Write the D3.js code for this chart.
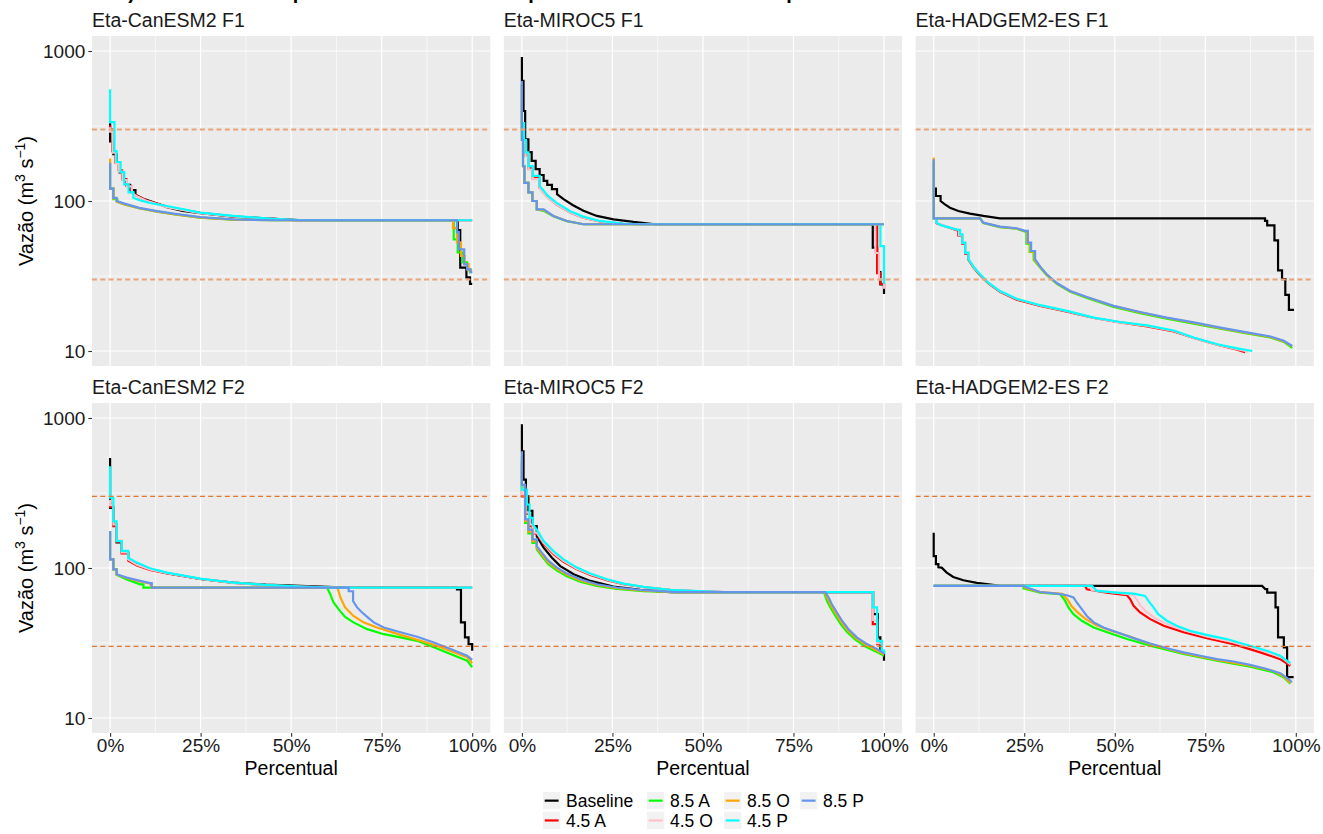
<!DOCTYPE html>
<html><head><meta charset="utf-8">
<script src="https://cdn.jsdelivr.net/npm/d3@7"></script>
<style>body{margin:0;background:#fff}svg{display:block;font-family:"Liberation Sans",Arial,sans-serif}</style>
</head><body>
<svg id="c" width="1323" height="834"></svg>
<script>
const seriesNames = ["Baseline","4.5 A","8.5 A","4.5 O","8.5 O","4.5 P","8.5 P"];
const seriesColors = ["#000000","#FF0000","#00FF00","#FFC0CB","#FFA500","#00FFFF","#6495ED"];
const panelTitles = ["Eta-CanESM2 F1","Eta-MIROC5 F1","Eta-HADGEM2-ES F1","Eta-CanESM2 F2","Eta-MIROC5 F2","Eta-HADGEM2-ES F2"];
const xTicks = [0,25,50,75,100];
const xTickLabels = ["0%","25%","50%","75%","100%"];
const yTicks = [10,100,1000];
const refLines = [300,30];
const titleText = "b) Curva de vazão permanente de cenários para os horizontes futuros por modelo";

// each panel: [Baseline, 4.5 A, 8.5 A, 4.5 O, 8.5 O, 4.5 P, 8.5 P], vertices [percent, vazão]
const canesmF1 = [
 [[0,330],[0,250],[0.9,250],[0.9,205],[1.8,205],[1.8,180],[2.6,180],[2.6,155],[3.5,155],[3.5,138],[4.4,138],[4.4,128],[5.5,128],[5.5,118],[7,118],[7,110],[9,104],[12,98],[15.7,91],[20,86],[24.9,83],[34,78.5],[43,76.5],[52,74.5],[60,74.4],[96,74.4],[96,64],[96.7,64],[96.7,36],[98.4,36],[98.4,31],[99.4,31],[99.4,28],[100,28]],
 [[0,320],[0,300],[0.6,300],[0.6,215],[1.5,215],[1.5,180],[2.4,180],[2.4,160],[3.3,160],[3.3,140],[4.5,140],[4.5,126],[5.8,126],[5.8,114],[7.5,108],[10,101],[15.7,91.5],[24.9,83.3],[34,79],[43,76.5],[52,74.3],[60,74.4],[100,74.4]],
 [[0,180],[0,121],[0.9,121],[0.9,103],[2,103],[2,99],[4,95],[8,89.5],[13,85],[18,81.5],[24.9,77.5],[34,75.2],[45,74.4],[94.9,74.4],[94.9,55.5],[96,55.5],[96,45.5],[97.3,45.5],[97.3,39],[98.6,39],[98.6,35],[99.5,35],[99.5,33.5],[100,33.5]],
 [[0,310],[0,290],[0.7,290],[0.7,210],[1.6,210],[1.6,178],[2.5,178],[2.5,157],[3.4,157],[3.4,138],[4.6,138],[4.6,125],[6,125],[6,113],[7.5,107],[10,100.5],[15.7,91],[24.9,83],[34,78.8],[43,76.3],[52,74.3],[60,74.4],[100,74.4]],
 [[0,192],[0,121],[0.9,121],[0.9,104],[1.8,104],[1.8,99],[4,95],[8,89.5],[13,85],[18,81.5],[24.9,77.5],[34,75.2],[45,74.4],[94.7,74.4],[94.7,66],[95.8,66],[95.8,53],[96.9,53],[96.9,43],[97.9,43],[97.9,38],[99,38],[99,34.5],[100,34.5]],
 [[0,556],[0,336],[1.2,336],[1.2,215],[1.8,215],[1.8,182],[2.9,182],[2.9,156],[3.9,156],[3.9,129],[5.1,129],[5.1,114],[6.4,114],[6.4,105],[8.3,101],[11,97],[15.7,92.6],[24.9,83.7],[34,79.5],[43,76.7],[52,74.6],[60,74.4],[100,74.4]],
 [[0,180],[0,121],[0.9,121],[0.9,105],[1.8,105],[1.8,100],[4,96],[8,90],[13,85.5],[18,82],[24.9,78],[34,75.5],[45,74.4],[95.8,74.4],[95.8,62],[96.3,62],[96.3,47.6],[97.8,47.6],[97.8,37.8],[98.6,37.8],[98.6,35],[99.5,35],[99.5,33.5],[100,33.5]]
];
const mirocF1 = [
 [[0,912],[0,632],[0.45,632],[0.45,398],[0.9,398],[0.9,258],[1.8,258],[1.8,212],[2.7,212],[2.7,185],[3.8,185],[3.8,163],[4.9,163],[4.9,149],[6,149],[6,136],[7,136],[7,128],[8.3,128],[8.3,120],[9.7,120],[9.7,111],[11.5,103],[14,94],[17,86],[20.7,79.5],[25.3,75.5],[30.8,72.5],[36.8,70],[96.9,70],[96.9,48.9],[98.1,48.9],[98.1,33.6],[99,33.6],[99,27.8],[100,27.8],[100,24]],
 [[0,600],[0,300],[0.5,300],[0.5,250],[1,250],[1,200],[1.8,200],[1.8,165],[3,165],[3,142],[4.9,142],[4.9,122],[7.2,105],[9.5,95],[13.2,84],[16.9,77.5],[21.5,73],[27.9,70.5],[33,70],[98.1,70],[98.1,33],[99,33],[99,28],[100,28],[100,26]],
 [[0,600],[0,255],[0.3,255],[0.3,171],[0.7,171],[0.7,132],[1.8,132],[1.8,114],[2.9,114],[2.9,100],[4.1,100],[4.1,88],[6,86],[8.7,79],[12.4,73.3],[17,70],[100,70]],
 [[0,600],[0,290],[0.5,290],[0.5,245],[1,245],[1,198],[1.8,198],[1.8,162],[3,162],[3,140],[4.9,140],[4.9,121],[7.2,104],[9.5,95],[13.2,84],[16.9,77.5],[21.5,73],[27.9,70.5],[33,70],[97.6,70],[97.6,45],[98.6,45],[98.6,30],[100,30],[100,26]],
 [[0,610],[0,255],[0.3,255],[0.3,171],[0.7,171],[0.7,132],[1.8,132],[1.8,114],[2.9,114],[2.9,100],[4.1,100],[4.1,88],[6,87],[8.7,79.3],[12.4,73.5],[17,70],[100,70]],
 [[0,620],[0,330],[0.6,330],[0.6,255],[1.1,255],[1.1,211],[1.8,211],[1.8,171],[3,171],[3,147],[4.9,147],[4.9,126],[7.2,108],[9.5,97.6],[13.2,85.8],[16.9,78.7],[21.5,73.6],[27.9,70.7],[33,70],[99,70],[99,50],[100,50],[100,28]],
 [[0,632],[0,255],[0.3,255],[0.3,171],[0.7,171],[0.7,132],[1.8,132],[1.8,114],[2.9,114],[2.9,100],[4.1,100],[4.1,88],[6,88],[8.7,79.5],[12.4,73.6],[17,70],[100,70]]
];
const hadgemF1 = [
 [[0,121],[0.6,121],[0.6,108],[1.9,108],[1.9,100],[3.1,95],[4.5,90.3],[6.8,85.8],[10,82.4],[13.7,79.5],[18.3,76.7],[91.5,76.7],[91.5,73.6],[92.1,73.6],[92.1,68.8],[94.1,68.8],[94.1,54.7],[95.1,54.7],[95.1,34.5],[96.2,34.5],[96.2,30.1],[97.1,30.1],[97.1,23.7],[98.1,23.7],[98.1,18.8],[99.5,18.8]],
 [[0,76.7],[0.8,76.7],[0.8,71],[4.5,66],[6.8,63.5],[6.8,59],[7.9,59],[7.9,52],[8.7,52],[8.7,44.5],[9.6,44.5],[9.6,40.5],[11,36],[12.8,32],[15.1,28.2],[18.3,24.8],[22.9,22],[29.4,20],[36.8,18.3],[44.2,16.6],[51.5,15.5],[58.9,14.6],[66.3,13.5],[71.8,12.2],[78.3,11],[83.8,10.2],[86,9.8]],
 [[0,185],[0,76.7],[12.8,76.7],[13.7,71.2],[18.3,67],[22.9,65.3],[25.2,62.5],[25.6,62.5],[25.6,52],[26.5,52],[26.5,45.8],[27.6,45.8],[27.6,40.5],[29.4,36],[31.2,32],[34,28],[37.7,24.8],[42.3,22.6],[49.7,19.7],[57,17.9],[64.4,16.4],[71.8,15.2],[79.2,14.1],[86.5,13.1],[93,12.3],[96.7,11.5],[99,10.5]],
 [[0,76.7],[0.8,76.7],[0.8,71.5],[4.5,66.2],[7,64],[7,59.5],[8,59.5],[8,52.5],[8.8,52.5],[8.8,45],[9.7,45],[9.7,40.7],[11,36.3],[12.8,32.3],[15.1,28.4],[18.3,25],[22.9,22.2],[29.4,20.1],[36.8,18.4],[44.2,16.6],[51.5,15.5],[58.9,14.7],[66.3,13.6],[71.8,12.2],[78.3,11],[83.8,10.3],[87,9.9]],
 [[0,195],[0,76.7],[12.8,76.7],[13.7,71.5],[18.3,67.3],[22.9,65.6],[25.2,63],[25.8,63],[25.8,52.5],[26.7,52.5],[26.7,46],[27.8,46],[27.8,40.7],[29.4,36.3],[31.2,32.3],[34,28.2],[37.7,25],[42.3,22.8],[49.7,19.9],[57,18.1],[64.4,16.6],[71.8,15.4],[79.2,14.2],[86.5,13.2],[93,12.4],[96.7,11.6],[99,10.7]],
 [[0,76.7],[0.8,76.7],[0.8,71.7],[2,69],[4.5,66.4],[6.8,64.1],[7.3,64.1],[7.3,60],[7.9,60],[7.9,52.8],[8.7,52.8],[8.7,45.3],[9.6,45.3],[9.6,40.9],[11,36.5],[12.8,32.5],[15.1,28.6],[18.3,25.1],[22.9,22.3],[29.4,20.2],[36.8,18.5],[44.2,16.7],[51.5,15.6],[58.9,14.8],[66.3,13.7],[71.8,12.3],[78.3,11.1],[83.8,10.4],[88,10]],
 [[0,190],[0,76.7],[12.8,76.7],[13.7,71.7],[18.3,67.5],[22.9,65.8],[25.2,63.2],[26,63.2],[26,52.8],[26.9,52.8],[26.9,46.4],[28,46.4],[28,40.9],[29.4,36.5],[31.2,32.5],[34,28.4],[37.7,25.1],[42.3,22.9],[49.7,20],[57,18.2],[64.4,16.7],[71.8,15.5],[79.2,14.3],[86.5,13.3],[93,12.5],[96.7,11.7],[99,10.8]]
];
const canesmF2 = [
 [[0,541],[0,252],[0.9,252],[0.9,195],[1.8,195],[1.8,148],[3.2,148],[3.2,127],[5,127],[5,114],[7.4,106],[11,98],[15.7,92.5],[24.9,84.5],[34,80],[43,77.5],[52.5,76],[60,75],[65,74.1],[95.8,74.1],[95.8,72],[96.9,72],[96.9,43.4],[98,43.4],[98,34.5],[99,34.5],[99,31.1],[100,31.1],[100,28.1]],
 [[0,270],[0,255],[0.9,255],[0.9,190],[1.8,190],[1.8,150],[3.2,150],[3.2,125],[5,125],[5,112],[7.4,104],[11,97],[15.7,92],[24.9,84.5],[34,79.5],[43,77],[52.5,75.2],[62,74.1],[100,74.1]],
 [[0,176],[0,114],[0.9,114],[0.9,98],[1.8,98],[1.8,90],[4.6,84],[8.3,77.8],[9.2,77.8],[9.2,74.1],[59.9,74.1],[60.8,66.9],[61.7,58.9],[63.1,53.2],[64.9,47.2],[67.2,43.4],[71,39.1],[75.6,36.2],[80.2,34.5],[84.8,32.7],[89.4,29.6],[94,26.7],[98.6,24.1],[100,21.8]],
 [[0,285],[0,262],[0.9,262],[0.9,195],[1.8,195],[1.8,152],[3.2,152],[3.2,127],[5,127],[5,114],[7.4,105],[11,98],[15.7,92.5],[24.9,84.7],[34,79.7],[43,77],[52.5,75.2],[62,74.1],[100,74.1]],
 [[0,176],[0,114],[0.9,114],[0.9,98],[1.8,98],[1.8,90.5],[4.6,85.5],[8.3,81.5],[11,78.8],[11.5,74.1],[62.8,74.1],[63.6,63.6],[64.9,54.6],[67.2,47.9],[70,43.4],[73.7,40.1],[80.2,35.8],[89.4,30.8],[94,28],[98.6,25.4],[100,23.2]],
 [[0,476],[0,294],[0.9,294],[0.9,205],[1.8,205],[1.8,151],[3.2,151],[3.2,130],[5,130],[5,117],[7.4,108.6],[11,99.5],[15.7,93.2],[24.9,85],[34,80],[43,77.1],[52.5,75.2],[61.7,74.1],[100,74.1]],
 [[0,176.7],[0,114.2],[0.9,114.2],[0.9,98],[1.8,98],[1.8,90.8],[4.6,86.3],[8.3,82],[11,79.2],[11.5,79.2],[11.5,74.1],[65.9,74.1],[65.9,70],[67.1,70],[67.1,60.3],[68.2,54.6],[69.6,50.5],[71,47.2],[72.8,43.4],[75.6,40.1],[80.2,37.3],[84.8,34.8],[89.4,31.9],[94,28.8],[98.6,26],[100,24.4]]
];
const mirocF2 = [
 [[0,910],[0,600],[0.45,600],[0.45,388],[1.1,388],[1.1,300],[1.8,300],[1.8,240],[2.9,240],[2.9,190],[4.1,190],[4.1,163],[6,136.6],[8.3,117.2],[10.6,103],[14.3,90.8],[18.9,82],[25.3,75.2],[32.7,71.4],[41,69],[97,69],[97,49.2],[98.3,49.2],[98.3,34.5],[99,34.5],[99,27.4],[100,27.4],[100,24.1]],
 [[0,500],[0,300],[0.9,300],[0.9,230],[2,230],[2,190],[3,190],[3,170],[4.1,170],[6,145],[8.7,124],[11.5,110],[15.2,98],[18.9,90],[23.5,83],[28.1,78],[33.6,74.5],[41.9,71],[55.7,69],[96.9,69],[96.9,42.3],[98.1,42.3],[98.1,31.1],[99.4,31.1],[99.4,27],[100,27]],
 [[0,560],[0,330],[0.9,330],[0.9,200],[1.8,200],[1.8,170],[2.9,170],[2.9,147],[4.1,147],[4.1,133],[5.5,120],[7.3,106],[9.7,96],[12.4,88],[16.1,81],[20.7,76],[26.2,72.5],[33.6,70],[42.8,69],[83.4,69],[84.3,60],[85.2,54.5],[86.6,48],[88,42.5],[89.8,37.5],[92.1,33.3],[94.9,30],[97.7,27.8],[100,26]],
 [[0,500],[0,310],[0.9,310],[0.9,235],[2,235],[2,195],[3,195],[3,172],[4.1,172],[6,147],[8.7,126],[11.5,111.5],[15.2,99],[18.9,90.8],[23.5,83.5],[28.1,78.3],[33.6,74.6],[41.9,71],[55.7,69],[96.9,69],[96.9,45],[98.1,45],[98.1,31.5],[99.4,31.5],[99.4,27.5],[100,27.5]],
 [[0,580],[0,345],[0.9,345],[0.9,205],[1.8,205],[1.8,175],[2.9,175],[2.9,151],[4.1,151],[4.1,136],[5.5,123],[7.3,109],[9.7,98.5],[12.4,90],[16.1,82.6],[20.7,77],[26.2,73.3],[33.6,70.5],[42.8,69],[83.6,69],[84.5,62],[85.4,56],[86.8,49.3],[88.2,43.5],[90,38.3],[92.3,34],[95.1,30.6],[97.9,28.3],[100,26.5]],
 [[0,520],[0,333],[1.4,333],[1.4,265],[2.1,265],[2.1,216],[3,216],[3,195],[4.1,180],[6,151.4],[8.7,129.7],[11.5,114.2],[15.2,100.6],[18.9,91.8],[23.5,84.1],[28.1,78.7],[33.6,74.8],[41.9,71.1],[55.7,69],[96.9,69],[96.9,54.6],[98.1,54.6],[98.1,32.7],[99.4,32.7],[99.4,28.1],[100,28.1],[100,26.7]],
 [[0,600],[0,358],[0.9,358],[0.9,211],[1.8,211],[1.8,180],[2.9,180],[2.9,155],[4.1,155],[4.1,140],[5.5,126.6],[7.3,112],[9.7,100.6],[12.4,91.8],[16.1,84.1],[20.7,77.9],[26.2,74.1],[33.6,71.1],[42.8,69],[83.8,69],[84.7,63.6],[85.6,57.3],[87,50.5],[88.4,44.5],[90.2,39.1],[92.5,34.5],[95.3,31.1],[98.1,28.8],[100,26.9]]
];
const hadgemF2 = [
 [[0,172],[0,120],[0.6,120],[0.6,106],[1.3,106],[1.3,101],[2.2,100.6],[3.6,93.2],[5.4,87.1],[8.2,82.8],[11.9,79.5],[17.4,76.7],[18.3,76],[90.7,76],[91.6,72.2],[92.1,72.2],[92.1,68.6],[94.4,68.6],[94.4,54.6],[95.1,54.6],[95.1,34.5],[96.7,34.5],[96.7,29.6],[97.6,29.6],[97.6,18.7],[99.4,18.7]],
 [[0,76],[41.8,76],[42.3,72.2],[47.8,68.6],[53.4,65.8],[54.3,61.9],[55.2,55.9],[57,50.5],[59.8,45.6],[63.5,41.2],[69,37.3],[75.4,34.1],[82.8,31.1],[90.2,27.4],[95.7,24.7],[98.5,22.3]],
 [[0,76],[24.8,76],[24.8,73.2],[29.4,68.6],[34.9,66.9],[36.3,60.3],[37.2,54.6],[38.6,49.2],[40.9,44.5],[44.2,40.1],[47.9,37.3],[53.4,33.6],[59.8,30.3],[69,26.7],[78.2,24.1],[87.4,22],[93.8,20.2],[96.6,18.7],[98.5,16.9]],
 [[0,76],[43,76],[43.6,71.5],[49,69],[55,66.5],[56,62],[57,56.5],[58.5,51.5],[61,46.5],[64.5,42.2],[70,38],[75.4,35],[82,32.3],[88,29.5],[93,27],[96.5,25],[98.5,22.8]],
 [[0,76],[24.8,76],[25.3,73.5],[29.4,69],[35.5,67.2],[37,61.5],[38,56],[39.6,51],[41.8,46],[44.8,41.7],[48.5,38.5],[54,35],[59.8,31],[69,27.1],[78.2,24.4],[87.4,22.3],[93.8,20.6],[96.6,19],[98.5,17.1]],
 [[0,76],[43.7,76],[45.1,70.3],[50.6,68.6],[55.2,67.5],[58.4,65.1],[59.3,60.3],[60.7,54.6],[62,49.2],[64.4,44.5],[67.1,41.2],[70.8,38.1],[75.4,35.8],[80.9,33.6],[86.4,30.8],[92,28.1],[95.7,26],[98.5,23.2]],
 [[0,76],[24.8,76],[25.7,74.1],[29.4,69.2],[34,67.5],[36.8,65.8],[38.6,63.6],[39.5,58.9],[40.9,53.2],[42.3,47.9],[44.2,43.4],[46.9,40.1],[50.6,37.3],[55.2,34.1],[59.8,31.4],[64.4,29.2],[69,27.4],[73.6,26],[78.2,24.7],[82.8,23.8],[87.4,22.6],[92,21.2],[95.7,19.9],[98,18.2],[98.9,17.3]]
];
const panelData = [canesmF1, mirocF1, hadgemF1, canesmF2, mirocF2, hadgemF2];

const svg = d3.select("#c");
const FONT = 19;
const W = 398.3, H = 330;
const lefts = [92, 503.8, 915.6], tops = [36, 403];
const refStyles = [{c:"#E9A47A", w:2}, {c:"#E0762F", w:1.3}];

const x = d3.scaleLinear().domain([-5,105]).range([0,W]);
const y = d3.scaleLog().domain([Math.pow(10,0.9), Math.pow(10,3.1)]).range([H,0]);
const line = d3.line().x(d=>x(d[0])).y(d=>y(d[1]));

// partially visible title (cut at the top edge as in the reference)
svg.append("text").attr("x",116).attr("y",-1).attr("font-size",20).attr("font-weight","bold")
  .attr("fill","#000").text(titleText);

panelData.forEach((series,i)=>{
  const row = Math.floor(i/3), col = i%3;
  const g = svg.append("g").attr("transform",`translate(${lefts[col]},${tops[row]})`);
  g.append("rect").attr("width",W).attr("height",H).attr("fill","#EBEBEB");
  [12.5,37.5,62.5,87.5].forEach(v=>g.append("line").attr("x1",x(v)).attr("x2",x(v)).attr("y1",0).attr("y2",H).attr("stroke","#fff").attr("stroke-width",0.6));
  [Math.pow(10,1.5),Math.pow(10,2.5)].forEach(v=>g.append("line").attr("y1",y(v)).attr("y2",y(v)).attr("x1",0).attr("x2",W).attr("stroke","#fff").attr("stroke-width",0.6));
  xTicks.forEach(v=>g.append("line").attr("x1",x(v)).attr("x2",x(v)).attr("y1",0).attr("y2",H).attr("stroke","#fff").attr("stroke-width",1.2));
  yTicks.forEach(v=>g.append("line").attr("y1",y(v)).attr("y2",y(v)).attr("x1",0).attr("x2",W).attr("stroke","#fff").attr("stroke-width",1.2));
  const clipId = "clip"+i;
  g.append("clipPath").attr("id",clipId).append("rect").attr("width",W).attr("height",H);
  const lg = g.append("g").attr("clip-path",`url(#${clipId})`);
  series.forEach((pts,k)=>{
    lg.append("path").attr("d",line(pts)).attr("fill","none").attr("stroke",seriesColors[k])
      .attr("stroke-width",2.2).attr("stroke-linejoin","miter").attr("stroke-linecap","butt");
  });
  refLines.forEach(v=>{
    lg.append("line").attr("x1",0).attr("x2",W).attr("y1",y(v)).attr("y2",y(v))
      .attr("stroke",refStyles[row].c).attr("stroke-width",refStyles[row].w).attr("stroke-dasharray","5,3.3");
  });
  svg.append("text").attr("x",lefts[col]).attr("y",tops[row]-9).attr("font-size",19.5).attr("fill","#1a1a1a").text(panelTitles[i]);
  if(col===0){
    const ax = g.append("g").call(d3.axisLeft(y).tickValues(yTicks).tickFormat(d3.format("d")).tickSize(3.7).tickPadding(3));
    ax.select(".domain").remove();
    ax.selectAll(".tick line").attr("stroke","#333").attr("stroke-width",1.1);
    ax.selectAll(".tick text").attr("font-size",FONT).attr("fill","#1a1a1a").attr("font-family","Liberation Sans, Arial, sans-serif");
    const yt = svg.append("text").attr("transform",`translate(33,${tops[row]+H/2}) rotate(-90)`)
      .attr("text-anchor","middle").attr("font-size",20).attr("fill","#000");
    yt.append("tspan").text("Vazão (m");
    yt.append("tspan").attr("font-size",14).attr("dy",-8).text("3");
    yt.append("tspan").attr("dy",8).text(" s");
    yt.append("tspan").attr("font-size",14).attr("dy",-8).text("\u22121");
    yt.append("tspan").attr("dy",8).text(")");
  }
  if(row===1){
    const ax = g.append("g").attr("transform",`translate(0,${H})`)
      .call(d3.axisBottom(x).tickValues(xTicks).tickFormat((d,j)=>xTickLabels[j]).tickSize(3.7).tickPadding(2));
    ax.select(".domain").remove();
    ax.selectAll(".tick line").attr("stroke","#333").attr("stroke-width",1.1);
    ax.selectAll(".tick text").attr("font-size",FONT).attr("fill","#1a1a1a").attr("font-family","Liberation Sans, Arial, sans-serif");
    svg.append("text").attr("x",lefts[col]+x(50)).attr("y",774.5).attr("text-anchor","middle")
      .attr("font-size",19.5).attr("fill","#000").text("Percentual");
  }
});

// legend: 2 rows, filled by column
const legCols = [543, 647, 724, 800];
const legRows = [792, 811.8];
seriesNames.forEach((name,k)=>{
  const c = Math.floor(k/2), r = k%2;
  const gx = legCols[c], gy = legRows[r];
  svg.append("rect").attr("x",gx).attr("y",gy).attr("width",17.3).attr("height",17.3).attr("fill","#F2F2F2");
  svg.append("line").attr("x1",gx+1.7).attr("x2",gx+15.6).attr("y1",gy+8.65).attr("y2",gy+8.65)
    .attr("stroke",seriesColors[k]).attr("stroke-width",2.2);
  svg.append("text").attr("x",gx+23).attr("y",gy+15).attr("font-size",17.5).attr("fill","#000").text(name);
});
</script>
</body></html>
